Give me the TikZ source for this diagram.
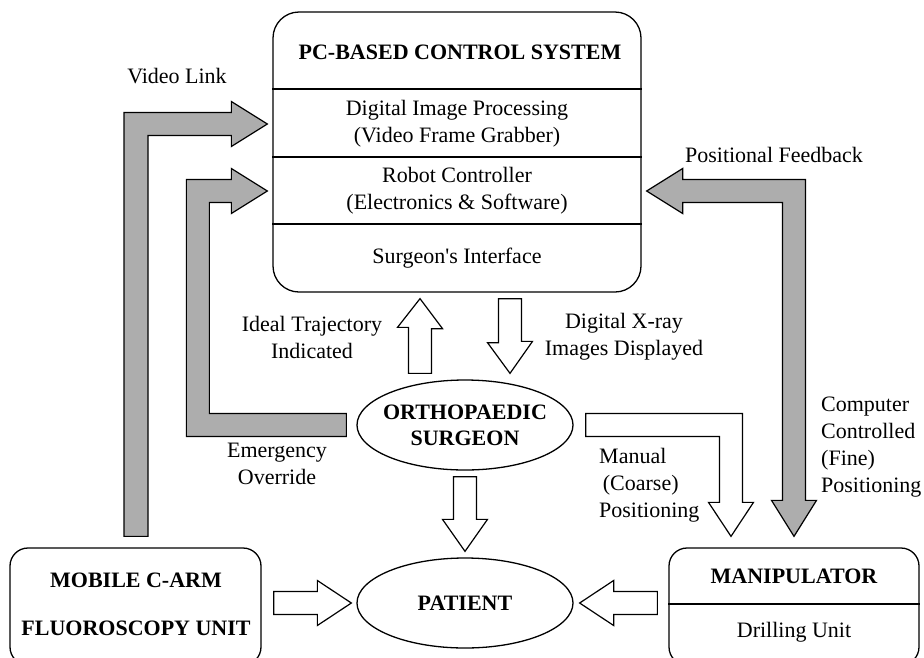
\documentclass[tikz,border=0pt]{standalone}
\usepackage{fontspec}
\setmainfont{Liberation Serif}
\usetikzlibrary{shapes,arrows,positioning,calc}

\begin{document}
\begin{tikzpicture}[x=1pt,y=-1pt,font=\fontsize{22}{27}\selectfont]
 \tikzset{box node/.style={rectangle, draw, line width=1.3pt,
 		minimum width=368pt, minimum height=280pt, rounded corners=26pt}, }
 \tikzset{unit node/.style={rectangle, draw, line width=1.3pt,
 		minimum width=251pt, minimum height=117pt, rounded corners=18pt}, }
 \tikzset{oval node/.style={ellipse, draw, line width=1.3pt,
 		minimum width=216pt, minimum height=90pt}, }
 \tikzset{title node/.style={font=\fontsize{22}{26}\selectfont\bfseries,
 		align=center}, }
 \tikzset{text node/.style={align=center, inner sep=1pt}, }
 \tikzset{grey arrow/.style={draw, line width=1.2pt, fill=black!32,
 		line join=miter}, }
 \tikzset{open arrow/.style={draw, line width=1.2pt, fill=white,
 		line join=miter}, }
 \useasboundingbox (0,0) rectangle (924,657);
 \clip (0,0) rectangle (924,657);
 % control system
 \node[box node] (pc) at (457,152) {};
 \node[title node] (pctitle) at (460,52) {PC-BASED CONTROL SYSTEM};
 \node[text node] (dip) at (457,124) {Digital Image Processing\\(Video Frame Grabber)};
 \node[text node] (rc) at (457,191) {Robot Controller\\(Electronics \& Software)};
 \node[text node] (si) at (457,258) {Surgeon\textquotesingle s Interface};
 \foreach \y in {89,157,224}
 \draw[line width=1.2pt] (pc.west |- 0,\y) -- (pc.east |- 0,\y);
 % surgeon, patient
 \node[oval node] (sg) at (465,425) {};
 \node[title node] (sgtext) at (sg) {ORTHOPAEDIC\\SURGEON};
 \node[oval node] (pt) at (465,603) {};
 \node[title node] (pttext) at (pt) {PATIENT};
 % units
 \node[unit node] (carm) at (135.5,606.5) {};
 \node[title node] (carm1) at (136,580) {MOBILE C-ARM};
 \node[title node] (carm2) at (136,628) {FLUOROSCOPY UNIT};
 \node[unit node, minimum width=250pt] (mp) at (794,606.5) {};
 \node[title node] (mptext) at (794,576) {MANIPULATOR};
 \node[text node] (du) at (794,632) {Drilling Unit};
 \draw[line width=1.2pt] (mp.west |- 0,604) -- (mp.east |- 0,604);
 % labels
 \node[text node] (vl) at (177,76) {Video Link};
 \node[text node] (pf) at (774,155) {Positional Feedback};
 \node[text node] (it) at (312,337) {Ideal Trajectory\\Indicated};
 \node[text node] (dx) at (624,337) {Digital X-ray\\Images Displayed};
 \node[text node] (eo) at (277,464) {Emergency\\Override};
 \node[text node, anchor=west, align=left] (mn) at (598,485) {Manual\\ \,(Coarse)\\Positioning};
 \node[text node, anchor=west, align=left] (cc) at (820,447) {Computer\\Controlled\\(Fine)\\Positioning};
 % arrow ends
 \coordinate (vl-s) at ($(carm.north)+(0.5,-11)$);
 \coordinate (vl-t) at ($(pc.west |- dip)+(-5,0)$);
 \coordinate (eo-s) at ($(sg.west)+(-10,0)$);
 \coordinate (eo-t) at ($(pc.west |- rc)+(-5,0)$);
 \coordinate (pf-t) at ($(pc.east |- rc)+(5,0)$);
 \coordinate (cc-t) at ($(mp.north)+(0,-11)$);
 \coordinate (it-s) at ($(sg.north)+(-45,-6)$);
 \coordinate (it-t) at ($(it-s |- pc.south)+(0,6)$);
 \coordinate (dx-t) at ($(sg.north)+(45,-6)$);
 \coordinate (dx-s) at ($(dx-t |- pc.south)+(0,6)$);
 \coordinate (sp-s) at ($(sg.south)+(0,6)$);
 \coordinate (sp-t) at ($(pt.north)+(0,-6)$);
 \coordinate (cp-s) at ($(carm.east |- pt)+(12,0)$);
 \coordinate (cp-t) at ($(pt.west)+(-5,0)$);
 \coordinate (mpp-s) at ($(mp.west |- pt)+(-11,0)$);
 \coordinate (mpp-t) at ($(pt.east)+(6,0)$);
 \coordinate (mn-s) at ($(sg.east)+(12,0)$);
 \coordinate (mn-t) at ($(mp.north)+(-63,-11)$);
 % grey arrows
 \draw[grey arrow] ($(vl-s)+(-12,0)$) |- ($(vl-t)+(-36,-11.5)$) -- ++(0,-11)
 	-- (vl-t) -- ++(-36,22.5) -- ++(0,-11) -| ($(vl-s)+(12,0)$) -- cycle;
 \draw[grey arrow] ($(eo-s)+(0,-11.5)$) -- ++(-137,0) |- ($(eo-t)+(-36,11.5)$)
 	-- ++(0,11) -- (eo-t) -- ++(-36,-22.5) -- ++(0,11)
 	-| ($(eo-s)+(-160,11.5)$) -- ($(eo-s)+(0,11.5)$) -- cycle;
 \draw[grey arrow] (pf-t) -- ++(36,-22.5) -- ++(0,11) -| ($(cc-t)+(11.5,-36)$)
 	-- ++(11,0) -- (cc-t) -- ++(-22.5,-36) -- ++(11,0)
 	|- ($(pf-t)+(36,11.5)$) -- ++(0,11) -- cycle;
 % open arrows
 \draw[open arrow] (it-t) -- ++(22.5,30) -- ++(-11,0) |- ($(it-s)+(-11.5,0)$)
 	-- ++(0,-46) -- ++(-11,0) -- cycle;
 \draw[open arrow] ($(dx-s)+(-11.5,0)$) -- ++(0,44) -- ++(-11,0) -- (dx-t)
 	-- ++(22.5,-32) -- ++(-11,0) -- ($(dx-s)+(11.5,0)$) -- cycle;
 \draw[open arrow] ($(sp-s)+(-11.5,0)$) -- ($(sp-t)+(-11.5,-32)$) -- ++(-11,0)
 	-- (sp-t) -- ++(22.5,-32) -- ++(-11,0) -- ($(sp-s)+(11.5,0)$) -- cycle;
 \draw[open arrow] ($(cp-s)+(0,-11.5)$) -- ($(cp-t)+(-34,-11.5)$) -- ++(0,-11)
 	-- (cp-t) -- ++(-34,22.5) -- ++(0,-11) -- ($(cp-s)+(0,11.5)$) -- cycle;
 \draw[open arrow] ($(mpp-s)+(0,-11.5)$) -- ($(mpp-t)+(34,-11.5)$) -- ++(0,-11)
 	-- (mpp-t) -- ++(34,22.5) -- ++(0,-11) -- ($(mpp-s)+(0,11.5)$) -- cycle;
 \draw[open arrow] ($(mn-s)+(0,-11.5)$) -| ($(mn-t)+(11.5,-34)$) -- ++(11,0)
 	-- (mn-t) -- ++(-22.5,-34) -- ++(11,0) |- ($(mn-s)+(0,11.5)$) -- cycle;
% %%
\end{tikzpicture}
\end{document}
